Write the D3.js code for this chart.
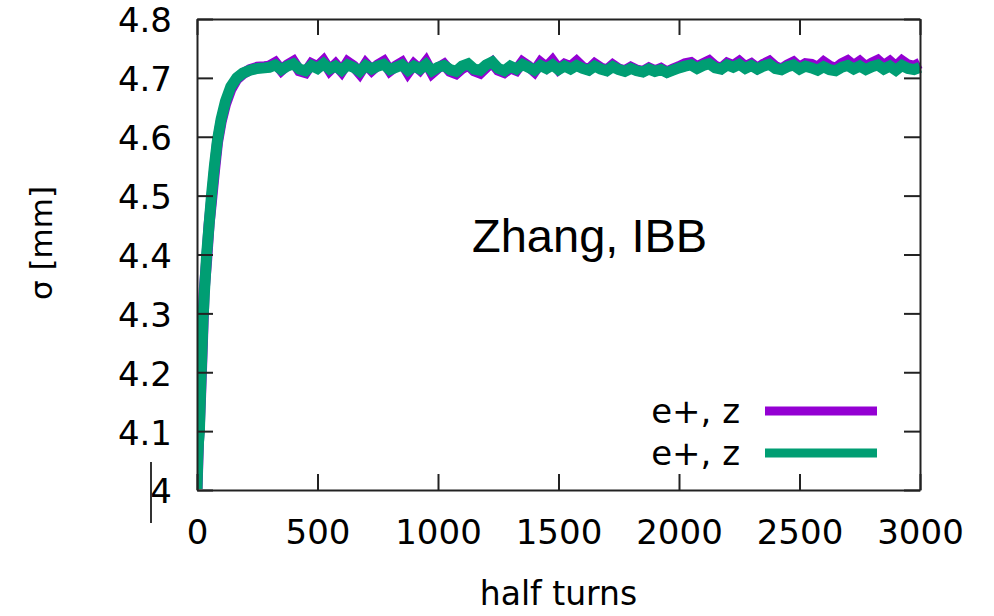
<!DOCTYPE html>
<html>
<head>
<meta charset="utf-8">
<script src="https://cdn.jsdelivr.net/npm/d3@7"></script>
<style>
  body { margin: 0; background: #fff; }
  text { font-family: "DejaVu Sans", Verdana, sans-serif; fill: #000; }
</style>
</head>
<body>
<div class="box"></div>
<script>
// Tick values and labels
const xTicks = [0, 500, 1000, 1500, 2000, 2500, 3000];
const yTicks = [4.0, 4.1, 4.2, 4.3, 4.4, 4.5, 4.6, 4.7, 4.8];
const yTickLabels = ["4", "4.1", "4.2", "4.3", "4.4", "4.5", "4.6", "4.7", "4.8"];

// half turns: dense sampling in the rise, then every 25 turns
const riseTurns = [0, 3, 6, 10, 15, 20, 25, 30, 40, 50, 60, 72, 85, 100, 118, 140, 165, 190, 220, 250, 280];
const plateauTurns = d3.range(300, 3001, 25);
const halfTurns = riseTurns.concat(plateauTurns);

// sigma [mm]
const sigmaPurple = [
  4.00, 4.04, 4.08, 4.11, 4.16, 4.22, 4.28, 4.34, 4.39, 4.45, 4.49, 4.54, 4.59, 4.625, 4.655, 4.68, 4.698, 4.707, 4.714, 4.718, 4.719,
  4.720, 4.726, 4.713, 4.722, 4.728, 4.712, 4.709, 4.724, 4.719, 4.729,
  4.713, 4.723, 4.711, 4.727, 4.720, 4.708, 4.724, 4.713, 4.722, 4.728,
  4.712, 4.720, 4.726, 4.709, 4.723, 4.714, 4.727, 4.708, 4.717, 4.723,
  4.711, 4.707, 4.716, 4.722, 4.712, 4.708, 4.718, 4.726, 4.713, 4.709,
  4.717, 4.713, 4.727, 4.720, 4.711, 4.726, 4.718, 4.729, 4.715, 4.723,
  4.719, 4.728, 4.718, 4.714, 4.724, 4.717, 4.713, 4.722, 4.715, 4.712,
  4.718, 4.713, 4.711, 4.717, 4.712, 4.716, 4.710, 4.715, 4.719, 4.724,
  4.726, 4.719, 4.724, 4.729, 4.720, 4.716, 4.725, 4.721, 4.728, 4.719,
  4.724, 4.716, 4.723, 4.728, 4.719, 4.715, 4.722, 4.727, 4.718, 4.724,
  4.723, 4.718, 4.727, 4.720, 4.716, 4.724, 4.729, 4.721, 4.728, 4.719,
  4.725, 4.730, 4.721, 4.728, 4.719, 4.729, 4.722, 4.720, 4.725
];
const sigmaGreen = [
  4.00, 4.05, 4.08, 4.10, 4.17, 4.23, 4.29, 4.33, 4.40, 4.45, 4.50, 4.55, 4.595, 4.63, 4.66, 4.685, 4.70, 4.708, 4.713, 4.716, 4.717,
  4.718, 4.722, 4.714, 4.720, 4.724, 4.715, 4.712, 4.721, 4.716, 4.724,
  4.715, 4.720, 4.713, 4.722, 4.718, 4.711, 4.721, 4.715, 4.720, 4.723,
  4.714, 4.718, 4.722, 4.713, 4.720, 4.715, 4.723, 4.712, 4.718, 4.721,
  4.714, 4.711, 4.720, 4.724, 4.715, 4.713, 4.722, 4.727, 4.716, 4.712,
  4.720, 4.715, 4.723, 4.718, 4.713, 4.721, 4.716, 4.722, 4.714, 4.720,
  4.715, 4.721, 4.716, 4.713, 4.720, 4.715, 4.712, 4.719, 4.714, 4.711,
  4.716, 4.712, 4.710, 4.715, 4.711, 4.714, 4.709, 4.713, 4.717, 4.720,
  4.722, 4.716, 4.721, 4.724, 4.717, 4.715, 4.722, 4.718, 4.723, 4.716,
  4.721, 4.715, 4.720, 4.723, 4.716, 4.714, 4.719, 4.722, 4.715, 4.720,
  4.717, 4.713, 4.719, 4.714, 4.712, 4.718, 4.721, 4.715, 4.720, 4.714,
  4.719, 4.722, 4.715, 4.720, 4.713, 4.721, 4.716, 4.714, 4.718
];

const seriesNames = ["e+, z", "e+, z"];
const seriesColors = ["#9400d3", "#009e73"];

// svg box
const w = 994;
const h = 616;
const plotLeft = 197, plotRight = 920, plotTop = 19, plotBottom = 490;

const xScale = d3.scaleLinear().domain([0, 3000]).range([plotLeft, plotRight]);
const yScale = d3.scaleLinear().domain([4.0, 4.8]).range([plotBottom, plotTop]);

const svg = d3.select(".box")
    .append("svg")
    .attr("width", w)
    .attr("height", h);

// clip the curves to the frame
svg.append("clipPath")
    .attr("id", "plot-clip")
    .append("rect")
    .attr("x", plotLeft + 1)
    .attr("y", 0)
    .attr("width", plotRight - plotLeft + 5)
    .attr("height", plotBottom - 1);

const line = d3.line()
    .x((d) => xScale(d[0]))
    .y((d) => yScale(d[1]));

[sigmaPurple, sigmaGreen].forEach((vals, i) => {
    svg.append("path")
        .datum(halfTurns.map((t, j) => [t, vals[j]]))
        .attr("d", line)
        .attr("clip-path", "url(#plot-clip)")
        .style("fill", "none")
        .style("stroke", seriesColors[i])
        .style("stroke-width", 11)
        .style("stroke-linejoin", "miter");
});

// frame with mirrored inward ticks (gnuplot style)
const tickLen = 16;
const styleAxis = (g) => {
    g.selectAll(".domain").attr("stroke", "#222").attr("stroke-width", 2);
    g.selectAll(".tick line").attr("stroke", "#222").attr("stroke-width", 2);
    g.selectAll("text").attr("fill", "#000");
};

svg.append("g")
    .attr("transform", "translate(0," + plotBottom + ")")
    .call(d3.axisBottom(xScale).tickValues(xTicks).tickSizeInner(-tickLen).tickSizeOuter(0).tickPadding(30)
        .tickFormat(d3.format("d")))
    .call(styleAxis)
    .call((g) => g.selectAll("text").style("font-size", "34px").attr("font-family", null));

svg.append("g")
    .attr("transform", "translate(0," + plotTop + ")")
    .call(d3.axisTop(xScale).tickValues(xTicks).tickSizeInner(-tickLen).tickSizeOuter(0).tickFormat(""))
    .call(styleAxis);

svg.append("g")
    .attr("transform", "translate(" + plotLeft + ",0)")
    .call(d3.axisLeft(yScale).tickValues(yTicks).tickSizeInner(-tickLen).tickSizeOuter(0).tickPadding(25)
        .tickFormat((d, i) => yTickLabels[i]))
    .call(styleAxis)
    .call((g) => g.selectAll("text").style("font-size", "34px").attr("dy", "0.38em").attr("font-family", null));

svg.append("g")
    .attr("transform", "translate(" + plotRight + ",0)")
    .call(d3.axisRight(yScale).tickValues(yTicks).tickSizeInner(-tickLen).tickSizeOuter(0).tickFormat(""))
    .call(styleAxis);

// stray bar next to the "4" label
svg.append("line")
    .attr("x1", 151).attr("x2", 151)
    .attr("y1", 462).attr("y2", 523)
    .style("stroke", "#333")
    .style("stroke-width", 2);

// axis titles
svg.append("text")
    .attr("x", (plotLeft + plotRight) / 2)
    .attr("y", 605)
    .attr("text-anchor", "middle")
    .style("font-size", "33px")
    .text("half turns");

svg.append("text")
    .attr("transform", "translate(52," + 243 + ") rotate(-90)")
    .attr("text-anchor", "middle")
    .style("font-size", "31px")
    .text("σ [mm]");

// annotation
svg.append("text")
    .attr("x", 472)
    .attr("y", 252)
    .style("font-family", "'Liberation Sans', Arial, sans-serif")
    .style("font-size", "47px")
    .text("Zhang, IBB");

// legend
const legendY = [411, 453];
seriesNames.forEach((name, i) => {
    svg.append("text")
        .attr("x", 740)
        .attr("y", legendY[i])
        .attr("dy", "0.36em")
        .attr("text-anchor", "end")
        .style("font-size", "34px")
        .text(name);
    svg.append("line")
        .attr("x1", 765).attr("x2", 877)
        .attr("y1", legendY[i]).attr("y2", legendY[i])
        .style("stroke", seriesColors[i])
        .style("stroke-width", 9);
});
</script>
</body>
</html>
